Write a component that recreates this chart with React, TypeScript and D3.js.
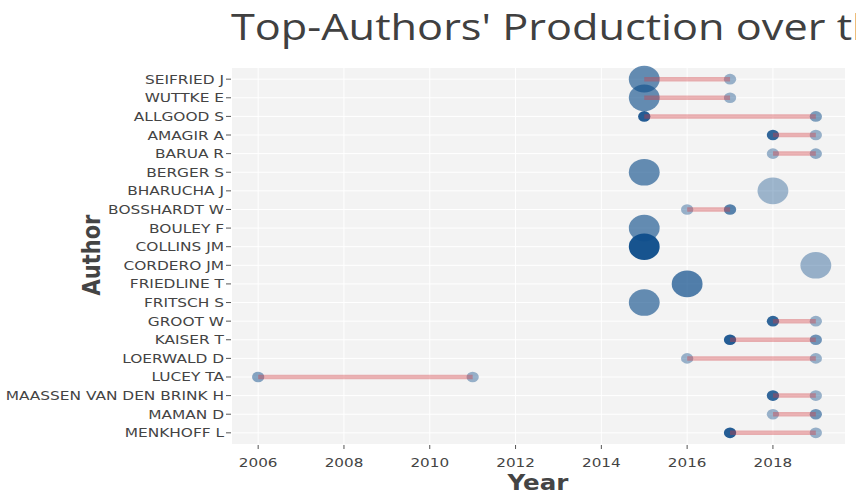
import React from "react";
import * as d3 from "d3";

// authors top to bottom
const authors = [
  "SEIFRIED J",
  "WUTTKE E",
  "ALLGOOD S",
  "AMAGIR A",
  "BARUA R",
  "BERGER S",
  "BHARUCHA J",
  "BOSSHARDT W",
  "BOULEY F",
  "COLLINS JM",
  "CORDERO JM",
  "FRIEDLINE T",
  "FRITSCH S",
  "GROOT W",
  "KAISER T",
  "LOERWALD D",
  "LUCEY TA",
  "MAASSEN VAN DEN BRINK H",
  "MAMAN D",
  "MENKHOFF L",
];

// publication years per author
const years: number[][] = [
  [2015, 2017],
  [2015, 2017],
  [2015, 2019],
  [2018, 2019],
  [2018, 2019],
  [2015],
  [2018],
  [2016, 2017],
  [2015],
  [2015],
  [2019],
  [2016],
  [2015],
  [2018, 2019],
  [2017, 2019],
  [2016, 2019],
  [2006, 2011],
  [2018, 2019],
  [2018, 2019],
  [2017, 2019],
];

// number of articles per author-year
const articles: number[][] = [
  [2, 1],
  [2, 1],
  [1, 1],
  [1, 1],
  [1, 1],
  [2],
  [2],
  [1, 1],
  [2],
  [2],
  [2],
  [2],
  [2],
  [1, 1],
  [1, 1],
  [1, 1],
  [1, 1],
  [1, 1],
  [1, 1],
  [1, 1],
];

// total citations per year
const tcPerYear: number[][] = [
  [6, 2],
  [6, 2],
  [11, 4],
  [10, 2],
  [2, 2.5],
  [6],
  [1.5],
  [2, 7],
  [6],
  [12],
  [2],
  [7.5],
  [6],
  [10, 2],
  [11, 5],
  [2, 2],
  [3.5, 2],
  [10, 2],
  [2, 5],
  [11, 2],
];

const xTicks = [2006, 2008, 2010, 2012, 2014, 2016, 2018];

const W = 856;
const H = 494;
const plot = { left: 232, right: 845, top: 68, bottom: 444 };
const SX = 1.17; // the original is a bit stretched sideways

const Txt = ({ x, y, sx = SX, children, ...rest }: any) => (
  <text transform={`translate(${x},${y}) scale(${sx},1)`} {...rest}>
    {children}
  </text>
);

export default function App() {
  const x = d3.scaleLinear().domain([2005.39, 2019.68]).range([plot.left, plot.right]);
  const y = d3.scalePoint<string>().domain(authors).range([plot.top, plot.bottom]).padding(0.6);
  const size = d3.scaleLinear().domain([1, 2]).range([5.3, 13.3]);
  const alpha = d3.scaleLinear().domain([0, 12]).range([0.3, 0.97]);

  const points = authors.flatMap((a, i) =>
    years[i].map((yr, j) => ({ a, yr, n: articles[i][j], tc: tcPerYear[i][j] }))
  );

  return (
    <svg width={W} height={H} style={{ position: "absolute", left: 0, top: 0 }} fontFamily="DejaVu Sans, sans-serif">
      <rect width={W} height={H} fill="#fff" />
      {/* the title runs past the right edge in the original too */}
      <Txt x={231} y={40} sx={1.17} fontSize={37} fill="#404040" fontFamily="Open Sans, sans-serif">
        Top-Authors' Production over the Time
      </Txt>

      <rect x={plot.left} y={plot.top} width={plot.right - plot.left} height={plot.bottom - plot.top} fill="#f3f3f3" />
      {xTicks.map((t) => (
        <line key={t} x1={x(t)} x2={x(t)} y1={plot.top} y2={plot.bottom} stroke="#fff" strokeWidth={1} />
      ))}
      {authors.map((a) => (
        <line key={a} x1={plot.left} x2={plot.right} y1={y(a)} y2={y(a)} stroke="#fff" strokeWidth={1} />
      ))}

      {points.map((p, i) => (
        <ellipse
          key={i}
          cx={x(p.yr)}
          cy={y(p.a)}
          rx={size(p.n) * 1.16}
          ry={size(p.n)}
          fill="#104E8B"
          fillOpacity={alpha(p.tc)}
        />
      ))}

      {authors.map((a, i) =>
        years[i].length > 1 ? (
          <line
            key={a}
            x1={x(d3.min(years[i])!)}
            x2={x(d3.max(years[i])!)}
            y1={y(a)}
            y2={y(a)}
            stroke="#d23a40"
            strokeOpacity={0.38}
            strokeWidth={4.5}
          />
        ) : null
      )}

      {authors.map((a) => (
        <g key={a}>
          <line x1={226} x2={231} y1={y(a)} y2={y(a)} stroke="#555" />
          <Txt x={224} y={y(a)} sx={1.23} dy="0.36em" textAnchor="end" fontSize={12.5} fill="#444">
            {a}
          </Txt>
        </g>
      ))}

      {xTicks.map((t) => (
        <g key={t}>
          <line x1={x(t)} x2={x(t)} y1={plot.bottom + 1} y2={plot.bottom + 5} stroke="#555" />
          <Txt x={x(t)} y={467} textAnchor="middle" fontSize={13} fill="#444">
            {t}
          </Txt>
        </g>
      ))}

      <Txt x={538} y={490} textAnchor="middle" fontSize={21} fontWeight="bold" fill="#444">
        Year
      </Txt>
      <text
        transform={`translate(100,255) scale(${SX},1) rotate(-90)`}
        textAnchor="middle"
        fontSize={21}
        fontWeight="bold"
        fill="#444"
      >
        Author
      </text>
    </svg>
  );
}
